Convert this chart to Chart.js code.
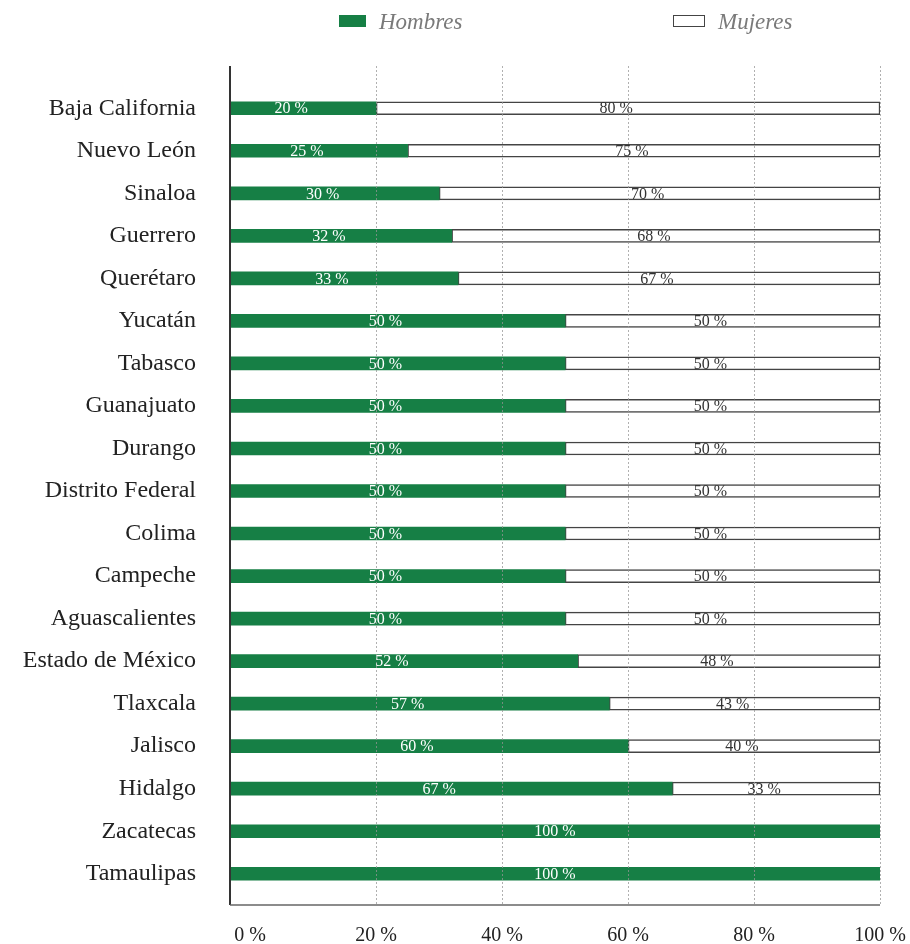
<!DOCTYPE html>
<html>
<head>
<meta charset="utf-8">
<script src="https://cdn.jsdelivr.net/npm/chart.js@4.4.1/dist/chart.umd.min.js"></script>
<style>
  body{margin:0;background:#fff;}
  #wrap{position:relative;width:910px;height:944px;}
  .leg{position:absolute;top:9px;font-family:"Liberation Serif",serif;font-style:italic;font-size:23px;color:#7a7a7a;white-space:nowrap;}
  .sw{display:inline-block;width:27px;height:12px;vertical-align:middle;margin-right:13px;position:relative;top:-3px;box-sizing:border-box;}
</style>
</head>
<body>
<div id="wrap">
  <div class="leg" style="left:339px"><span class="sw" style="background:#167f45"></span>Hombres</div>
  <div class="leg" style="left:673px"><span class="sw" style="width:32px;border:1.5px solid #444;background:#fff"></span>Mujeres</div>
  <canvas id="c" width="910" height="944"></canvas>
</div>
<script>
const estados = ["Baja California","Nuevo León","Sinaloa","Guerrero","Querétaro","Yucatán","Tabasco","Guanajuato","Durango","Distrito Federal","Colima","Campeche","Aguascalientes","Estado de México","Tlaxcala","Jalisco","Hidalgo","Zacatecas","Tamaulipas"];
const hombres = [20,25,30,32,33,50,50,50,50,50,50,50,50,52,57,60,67,100,100];
const mujeres = [80,75,70,68,67,50,50,50,50,50,50,50,50,48,43,40,33,0,0];
const xTicks = [0,20,40,60,80,100];

const X_MIN = -3.2;
const GREEN = "#167f45";
const FONT = "'Liberation Serif', serif";

// ejes, rejilla punteada y etiquetas de valor
const extras = {
  id:"extras",
  afterDatasetsDraw(chart){
    const ctx = chart.ctx, xs = chart.scales.x;
    const top = 66, bottom = 905, left = chart.chartArea.left, right = chart.chartArea.right;
    ctx.save();
    ctx.strokeStyle = "rgba(150,150,150,0.75)";
    ctx.lineWidth = 1;
    ctx.setLineDash([2,2]);
    xTicks.forEach(v=>{
      if(v===0) return;
      const x = Math.round(xs.getPixelForValue(v))+0.5;
      ctx.beginPath(); ctx.moveTo(x,top); ctx.lineTo(x,bottom); ctx.stroke();
    });
    ctx.setLineDash([]);
    ctx.strokeStyle = "#333"; ctx.lineWidth = 2;
    ctx.beginPath(); ctx.moveTo(left,top); ctx.lineTo(left,bottom); ctx.stroke();
    ctx.strokeStyle = "#666"; ctx.lineWidth = 1.5;
    ctx.beginPath(); ctx.moveTo(left,bottom); ctx.lineTo(right,bottom); ctx.stroke();

    ctx.font = "16px " + FONT;
    ctx.textAlign = "center"; ctx.textBaseline = "middle";
    chart.data.datasets.forEach((ds,i)=>{
      const meta = chart.getDatasetMeta(i);
      const vals = i===0 ? hombres : mujeres;
      meta.data.forEach((bar,j)=>{
        if(!vals[j]) return;
        const cx = (bar.x + bar.base)/2 - (vals[j]===100 ? 0 : 12);
        ctx.fillStyle = i===0 ? "#fff" : "#333";
        ctx.fillText(vals[j] + " %", cx, bar.y + 1);
      });
    });
    ctx.restore();
  }
};

new Chart(document.getElementById("c"),{
  type:"bar",
  data:{
    labels: estados,
    datasets:[
      {label:"Hombres", data: hombres.map(v=>[X_MIN, v]), backgroundColor:GREEN, borderWidth:0, barThickness:13},
      {label:"Mujeres", data: hombres.map((v,i)=>[v, v + mujeres[i]]), backgroundColor:"#fff", borderColor:"#444", borderWidth:1.5, borderSkipped:false, barThickness:13}
    ]
  },
  options:{
    indexAxis:"y",
    responsive:false,
    animation:false,
    events:[],
    layout:{padding:{top:87, right:30, left:0, bottom:0}},
    plugins:{legend:{display:false}, tooltip:{enabled:false}},
    datasets:{bar:{grouped:false}},
    scales:{
      x:{
        min:X_MIN, max:100,
        grid:{display:false}, border:{display:false},
        afterBuildTicks(s){ s.ticks = xTicks.map(v=>({value:v})); },
        afterFit(s){ s.height = 49; s.paddingRight = 0; s.paddingLeft = 0; },
        ticks:{padding:21, color:"#222", font:{family:FONT, size:20}, maxRotation:0, callback:v=>v+" %"}
      },
      y:{
        grid:{display:false}, border:{display:false},
        afterFit(s){ s.width = 230; },
        ticks:{padding:26, color:"#222", font:{family:FONT, size:24}, autoSkip:false}
      }
    }
  },
  plugins:[extras]
});
</script>
</body>
</html>
